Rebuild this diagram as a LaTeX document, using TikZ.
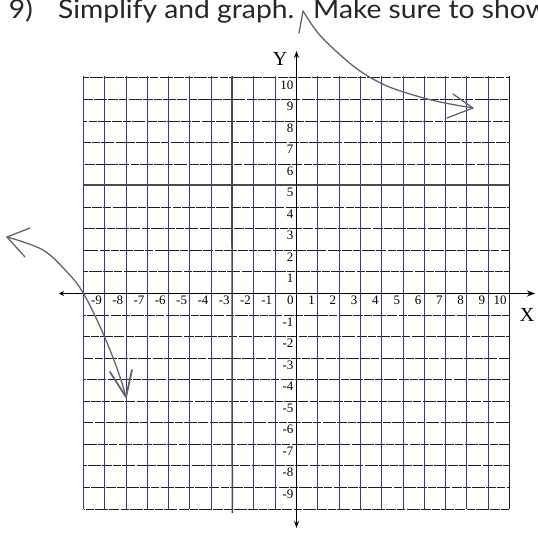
\documentclass[tikz,border=0pt]{standalone}
\usepackage{fontspec}
\setmainfont{Liberation Serif}
\newfontfamily\titlefont{Lato}
\usetikzlibrary{arrows.meta}
\definecolor{vgridc}{RGB}{58,52,150}
\definecolor{hgridc}{RGB}{30,30,35}
\definecolor{handc}{RGB}{100,100,105}
\tikzset{
  vgrid/.style={draw=vgridc, line width=1.3bp},
  hgrid/.style={draw=hgridc, line width=1.2bp, dash pattern=on 8bp off 1.2bp on 13bp off 1.2bp on 10bp off 1.2bp},
  axisline/.style={draw=black, line width=1.8bp},
  handline/.style={draw=handc!75!black, line width=1.5bp},
  handcurve/.style={draw=handc, line width=1.3bp, line cap=round, line join=round},
  ticklab/.style={font=\fontsize{13}{13}\selectfont, inner sep=0.5bp},
  axlab/.style={font=\fontsize{20}{20}\selectfont, inner sep=0bp},
  titletext/.style={font=\titlefont\fontsize{26}{26}\selectfont, inner sep=0bp, text=black!85}
}
\begin{document}
\begin{tikzpicture}[x=1bp,y=-1bp]
\useasboundingbox (0,0) rectangle (538,535);
\clip (0,0) rectangle (538,535);
\fill[white] (0,0) rectangle (538,535);
% title
\node[titletext, anchor=base east] (t9) at (33,19) {\scalebox{1.09}[1]{9)}};
\node[titletext, anchor=base west] (tsimp) at (58,19) {\scalebox{1.09}[1]{Simplify and graph.}};
\node[titletext, anchor=base west] (tmake) at (313,19) {\scalebox{1.09}[1]{Make sure to show}};
% grid: horizontal lines (y = k), snapped to pixel centres
\foreach \k in {-10,...,-1,1,2,...,10} {
  \pgfmathsetmacro\yy{round(293-21.55*\k)+0.5}
  \draw[hgrid, dash phase=\k*3.7bp] (83.5,\yy) -- (509.5,\yy);
}
% vertical lines (x = k)
\foreach \k in {-10,...,-1,1,2,...,9} {
  \pgfmathsetmacro\xx{round(296+21.3*\k)+0.5}
  \draw[vgrid] (\xx,76.5) -- (\xx,508.5);
}
\draw[draw=hgridc, line width=1.3bp] (509.5,76.5) -- (509.5,508.5);
% hand traced asymptotes
\draw[handline] (83.5,185.2) -- (509.5,185.2);
\draw[handline] (231.8,76.5) -- (232.3,513);
% axes
\coordinate (xl) at (59,293.5);
\coordinate (xr) at (535,293.5);
\coordinate (yt) at (296.5,51);
\coordinate (yb) at (296.5,528);
\draw[axisline, {Stealth[length=5bp,width=5bp]}-{Stealth[length=8bp,width=6bp]}] (xl) -- (xr);
\draw[axisline, {Stealth[length=7bp,width=5bp]}-{Stealth[length=7bp,width=5bp]}] (yb) -- (yt);
% x labels
\foreach \k in {-9,...,10} {
  \pgfmathsetmacro\xx{296+21.3*\k-1.8}
  \node[ticklab, anchor=north east] (xlab\k) at (\xx,295.5) {\k};
}
% y labels
\foreach \k in {-9,...,-1,1,2,...,10} {
  \pgfmathsetmacro\yy{293-21.55*\k+2.2}
  \node[ticklab, anchor=north east] (ylab\k) at (294,\yy) {\k};
}
\node[axlab] (ylabel) at (280,59) {Y};
\node[axlab] (xlabel) at (527,315) {X};
% hand-drawn curves
\coordinate (ua) at (303,11);
\coordinate (ub) at (473,108);
\draw[handcurve] plot[smooth, tension=0.6] coordinates {(303,11) (318,33) (337,52) (360,71) (387,86) (420,97) (445,103) (473,108)};
\draw[handcurve] (299,33) -- (ua);
\draw[handcurve] (453,94) -- (ub) -- (447,118);
\coordinate (la) at (7,237);
\coordinate (lb) at (126,397);
\draw[handcurve] plot[smooth, tension=0.6] coordinates {(7,237) (43,250) (67,272) (82,291) (97,320) (110,350) (120,377) (126,397)};
\draw[handcurve] (30,228) -- (la) -- (25,257);
\draw[handcurve, line width=1.8bp] (110,372) -- (lb) -- (132,370);
\end{tikzpicture}
\end{document}
